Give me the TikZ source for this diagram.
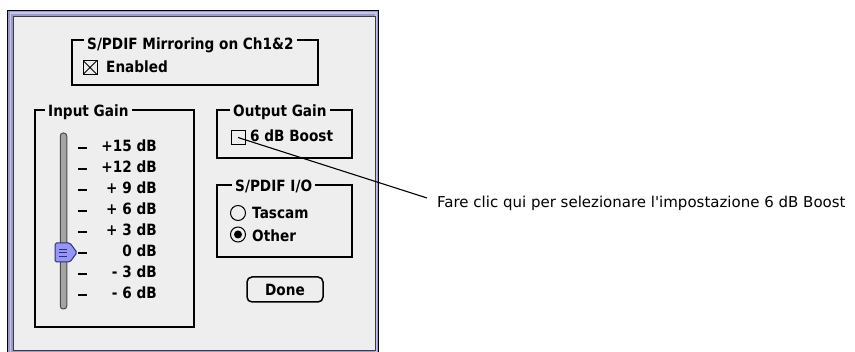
\documentclass[tikz,border=0pt]{standalone}
\usepackage{fontspec}
\setmainfont{DejaVu Sans}
\newfontfamily\uifont{DejaVu Sans}[FakeStretch=0.88]
\newfontfamily\notefont{DejaVu Sans}
\definecolor{panel}{HTML}{EEEEEE}
\definecolor{framelav}{HTML}{9A9ACC}
\definecolor{framelight}{HTML}{C4C4EC}
\definecolor{paneledge}{HTML}{3C3C3C}
\definecolor{thumbfill}{HTML}{9696F4}
\definecolor{thumbedge}{HTML}{2E2E78}
\definecolor{trackfill}{HTML}{A4A4A4}
\definecolor{trackedge}{HTML}{4A4A4A}
\tikzset{
  ui/.style={font=\uifont\bfseries\fontsize{15.5}{17}\selectfont, inner sep=0pt},
  groupbox/.style={draw, line width=2.2pt, inner sep=0pt},
  grouptitle/.style={ui, anchor=base west, fill=panel, inner xsep=3pt, inner ysep=1.5pt},
  checkbox/.style={draw, line width=1pt, minimum size=14pt, inner sep=0pt},
  radio/.style={draw, circle, line width=1pt, minimum size=15pt, inner sep=0pt},
  tick/.style={line width=1.6pt},
  scalelabel/.style={ui, anchor=base east},
  leader/.style={line width=1.1pt},
  notetext/.style={font=\notefont\fontsize{15}{17}\selectfont, inner sep=0pt, anchor=west}
}
\begin{document}
\begin{tikzpicture}[x=1pt,y=-1pt]
\useasboundingbox (0,0) rectangle (855,352);
\fill[white] (0,0) rectangle (855,352);

% window frame and dialog panel
\begin{scope}
  \clip (0,0) rectangle (855,352);
  \fill[framelav] (7,10) rectangle (379,372);
  \fill[framelight] (9.5,12.5) rectangle (376.5,372);
  \fill[framelav] (11,14) rectangle (375,372);
  \draw[black, line width=1pt] (7.5,10.5) rectangle (378.5,372);
  \fill[panel] (14,17) rectangle (375,350);
  \draw[paneledge, line width=1.4pt] (13.5,16.5) -- (375.5,16.5) -- (375.5,350.5) -- (13.5,350.5) -- cycle;
\end{scope}

% S/PDIF mirroring group
\node[groupbox, minimum width=246pt, minimum height=45pt] (mirrorbox) at (195,62.5) {};
\node[grouptitle] (mirrortitle) at (84,50) {S/PDIF Mirroring on Ch1\&2};
\node[checkbox, path picture={
    \draw[line width=0.8pt] (path picture bounding box.north west) -- (path picture bounding box.south east)
      (path picture bounding box.south west) -- (path picture bounding box.north east);}]
  (enablebox) at (90,67.5) {};
\node[ui, anchor=base west] (enabled) at (106,73) {Enabled};

% input gain group with slider
\node[groupbox, minimum width=159pt, minimum height=217pt] (inputbox) at (114.5,218.5) {};
\node[grouptitle] (inputtitle) at (45,117) {Input Gain\hspace{7pt}};
\node[draw=trackedge, fill=trackfill, line width=1pt, rounded corners=3pt,
      minimum width=6.5pt, minimum height=176pt, inner sep=0pt] (track) at (63.5,221) {};

\foreach \lab [count=\i from 0] in {+15 dB,+12 dB,+ 9 dB,+ 6 dB,+ 3 dB,0 dB,- 3 dB,- 6 dB} {
  \pgfmathsetmacro{\yb}{152+21*\i}
  \coordinate (tickL\i) at (78,\yb-4);
  \coordinate (tickR\i) at (87,\yb-4);
  \draw[tick] (tickL\i) -- (tickR\i);
  \node[scalelabel] (lab\i) at (157,\yb) {\lab};
}

% slider thumb at 0 dB
\draw[fill=thumbfill, draw=thumbedge, line width=1pt, rounded corners=1.5pt]
  (55,243) -- (70,243) -- (77,252.5) -- (70,262) -- (55,262) -- cycle;
\draw[thumbedge, line width=0.8pt] (59,249) -- (67,249) (59,252.5) -- (67,252.5) (59,256) -- (67,256);

% output gain group
\node[groupbox, minimum width=135pt, minimum height=48pt] (outputbox) at (284.5,134) {};
\node[grouptitle] (outputtitle) at (230,117) {Output Gain\hspace{4pt}};
\node[checkbox] (boostbox) at (238,137.5) {};
\node[ui, anchor=base west] (boost) at (250,142) {6 dB Boost};

% S/PDIF I/O group
\node[groupbox, minimum width=135pt, minimum height=72pt] (spdifbox) at (284.5,221) {};
\node[grouptitle] (spdiftitle) at (232,192) {S/PDIF I/O\hspace{9pt}};
\node[radio] (tascamradio) at (238,213) {};
\node[ui, anchor=base west] (tascam) at (252,219) {Tascam};
\node[radio] (otherradio) at (238,234.5) {};
\fill (otherradio.center) circle (4pt);
\node[ui, anchor=base west] (other) at (252,242) {Other};

% done button
\node[draw, line width=1.5pt, rounded corners=5pt, minimum width=76pt, minimum height=25pt,
      ui] (done) at (285,289.5) {Done};

% callout
\node[notetext] (note) at (437,203.5) {Fare clic qui per selezionare l'impostazione 6 dB Boost};
\coordinate (leaderend) at (427,198);
\draw[leader] (boostbox.center) -- (leaderend);
\end{tikzpicture}
\end{document}
